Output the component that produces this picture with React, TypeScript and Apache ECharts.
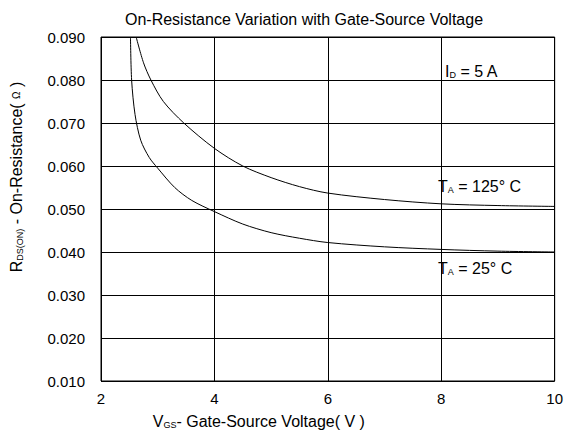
import React, { useEffect, useRef } from "react";
import * as echarts from "echarts";

const xTicks = [2, 4, 6, 8, 10];
const yTicks = [0.01, 0.02, 0.03, 0.04, 0.05, 0.06, 0.07, 0.08, 0.09];
const vgs25 = [2.52, 2.54, 2.6, 2.7, 2.85, 3.0, 3.3, 3.6, 4.0, 4.5, 5.0, 5.5, 6.0, 7.0, 8.0, 9.0, 10.0];
const rds25 = [0.09, 0.08, 0.072, 0.066, 0.062, 0.0595, 0.055, 0.052, 0.0494, 0.0465, 0.0445, 0.0432, 0.0422, 0.0412, 0.0406, 0.0402, 0.04];
const vgs125 = [2.62, 2.75, 2.88, 3.1, 3.46, 4.0, 4.5, 5.0, 5.5, 6.0, 7.0, 8.0, 9.0, 10.0];
const rds125 = [0.09, 0.084, 0.08, 0.075, 0.07, 0.0641, 0.06, 0.0573, 0.0552, 0.0537, 0.0522, 0.0512, 0.0508, 0.0506];

const FONT = "Liberation Sans, Arial, sans-serif";

export default function App() {
  const ref = useRef<HTMLDivElement>(null);
  useEffect(() => {
    if (!ref.current) return;
    const chart = echarts.init(ref.current, null, { renderer: "svg" });
    const lineStyle = { color: "#000", width: 1 };
    const sub = { fontFamily: FONT, fontSize: 9, color: "#000", verticalAlign: "bottom", padding: [5, 0, 0, 0] };
    const subFill = { fontFamily: FONT, fontSize: 9, fill: "#000", verticalAlign: "bottom", padding: [5, 0, 0, 0] };
    const big = { fontFamily: FONT, fontSize: 16, color: "#000" };
    const bigFill = { fontFamily: FONT, fontSize: 16, fill: "#000" };
    chart.setOption({
      animation: false,
      backgroundColor: "#fff",
      title: {
        text: "On-Resistance Variation with Gate-Source Voltage",
        left: 299,
        top: 6,
        textAlign: "center",
        textStyle: { fontFamily: FONT, fontSize: 16, fontWeight: "normal", color: "#000" },
      },
      grid: {
        left: 99,
        right: 10,
        top: 37,
        bottom: 52,
        show: true,
        borderColor: "#000",
        borderWidth: 1,
      },
      xAxis: {
        type: "value",
        min: 2,
        max: 10,
        interval: 2,
        axisLine: { show: false },
        axisTick: { show: false },
        splitLine: { show: true, lineStyle: { color: "#000", width: 1 } },
        axisLabel: {
          fontFamily: FONT,
          fontSize: 15,
          color: "#000",
          margin: 10,
          formatter: (v: number) => (xTicks.includes(v) ? String(v) : ""),
        },
        name: "{v|V}{s|GS}{v|- Gate-Source Voltage( V )}",
        nameLocation: "middle",
        nameGap: 32,
        nameTextStyle: {
          padding: [0, 138, 0, 0],
          rich: { v: big, s: sub },
        },
      },
      yAxis: {
        type: "value",
        min: 0.01,
        max: 0.09,
        interval: 0.01,
        axisLine: { show: false },
        axisTick: { show: false },
        splitLine: { show: true, lineStyle: { color: "#000", width: 1 } },
        axisLabel: {
          fontFamily: FONT,
          fontSize: 15,
          color: "#000",
          margin: 16,
          formatter: (v: number) => {
            const t = yTicks.find((y) => Math.abs(y - v) < 1e-9);
            return t !== undefined ? t.toFixed(3) : "";
          },
        },
        name: "{v|R}{s|DS(ON)}{v| - On-Resistance( }{o|Ω}{v| )}",
        nameLocation: "middle",
        nameGap: 77,
        nameRotate: 90,
        nameTextStyle: {
          padding: [0, 0, 0, 64],
          rich: {
            v: big,
            s: sub,
            o: { fontFamily: FONT, fontSize: 10, color: "#000" },
          },
        },
      },
      series: [
        {
          type: "line",
          name: "25C",
          data: vgs25.map((x, i) => [x, rds25[i]]),
          smooth: 0.3,
          showSymbol: false,
          lineStyle,
          clip: true,
        },
        {
          type: "line",
          name: "125C",
          data: vgs125.map((x, i) => [x, rds125[i]]),
          smooth: 0.3,
          showSymbol: false,
          lineStyle,
          clip: true,
        },
      ],
      graphic: [
        {
          type: "text",
          left: 445,
          top: 63,
          style: { text: "{v|I}{s|D}{v| = 5 A}", rich: { v: bigFill, s: subFill } },
        },
        {
          type: "text",
          left: 438,
          top: 178,
          style: { text: "{v|T}{s|A}{v| = 125° C}", rich: { v: bigFill, s: subFill } },
        },
        {
          type: "text",
          left: 438,
          top: 260,
          style: { text: "{v|T}{s|A}{v| = 25° C}", rich: { v: bigFill, s: subFill } },
        },
      ],
    });
    return () => chart.dispose();
  }, []);
  return <div ref={ref} style={{ width: 566, height: 434, position: "absolute", left: 0, top: 0 }} />;
}
